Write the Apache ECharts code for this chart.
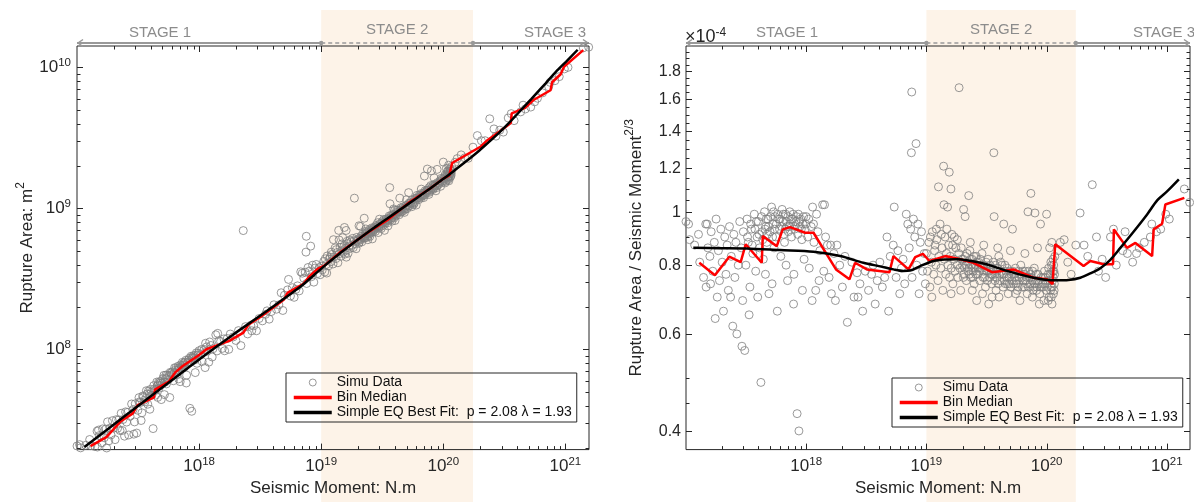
<!DOCTYPE html>
<html>
<head>
<meta charset="utf-8">
<script src="https://cdn.jsdelivr.net/npm/echarts@6/dist/echarts.min.js"></script>
<style>
html,body{margin:0;padding:0;background:#fff}
#chart{width:1194px;height:502px}
</style>
</head>
<body>
<div id="chart"></div>
<script>
var AXIS = '#262626';
var FONT = '"Liberation Sans", Arial, Helvetica, sans-serif';
var FIT_NAME = 'Simple EQ Best Fit:  p = 2.08 \u03bb = 1.93';

// simulated events: [seismic moment N.m, rupture area / moment^(2/3) in units of 1e-4]
var simuData = [
  [1.0e17,0.96],[1.05e17,0.95],[1.07e17,0.89],[1.18e17,0.87],[1.27e17,0.91],[1.3e17,0.81],[1.4e17,0.76],[1.46e17,0.95],
  [1.47e17,0.73],[1.5e17,0.95],[1.52e17,0.86],[1.58e17,0.83],[1.6e17,0.74],[1.62e17,0.92],[1.67e17,0.78],[1.72e17,0.88],
  [1.75e17,0.64],[1.78e17,0.97],[1.82e17,0.7],[1.86e17,0.85],[1.9e17,0.75],[1.95e17,0.93],[2.0e17,0.81],[2.05e17,0.66],
  [2.1e17,0.9],[2.15e17,0.77],[2.2e17,0.87],[2.25e17,0.72],[2.3e17,0.94],[2.35e17,0.7],[2.38e17,0.83],[2.45e17,0.62],
  [2.5e17,0.91],[2.55e17,0.76],[2.6e17,0.88],[2.65e17,0.6],[2.72e17,0.8],[2.8e17,0.96],[2.88e17,0.86],[2.92e17,0.57],
  [2.96e17,0.69],[3.0e17,0.92],[3.08e17,0.56],[3.15e17,0.8],[3.22e17,0.97],[3.25e17,0.9],[3.3e17,0.88],[3.35e17,0.65],
  [3.4e17,0.73],[3.45e17,0.95],[3.5e17,0.93],[3.55e17,0.87],[3.6e17,0.84],[3.7e17,0.99],[3.75e17,0.93],[3.8e17,0.78],
  [3.85e17,0.96],[3.9e17,0.9],[3.95e17,0.7],[4.0e17,0.96],[4.05e17,0.91],[4.1e17,0.86],[4.2e17,0.49],[4.25e17,0.98],
  [4.3e17,0.92],[4.35e17,0.89],[4.4e17,0.82],[4.5e17,1.0],[4.55e17,0.93],[4.58e17,0.77],[4.6e17,0.94],[4.65e17,0.97],
  [4.7e17,0.88],[4.75e17,0.91],[4.8e17,0.97],[4.85e17,0.94],[4.9e17,0.71],[5.0e17,0.92],[5.05e17,0.98],[5.15e17,1.02],
  [5.2e17,0.74],[5.25e17,0.9],[5.3e17,0.95],[5.35e17,1.0],[5.4e17,0.86],[5.45e17,0.93],[5.5e17,0.98],[5.6e17,0.9],
  [5.65e17,0.95],[5.75e17,0.66],[5.8e17,0.99],[5.9e17,0.97],[6.0e17,0.93],[6.05e17,0.97],[6.15e17,0.83],[6.25e17,0.94],
  [6.3e17,1.01],[6.4e17,0.96],[6.45e17,0.99],[6.5e17,0.91],[6.6e17,0.88],[6.7e17,0.93],[6.75e17,0.99],[6.8e17,0.8],
  [6.85e17,0.96],[6.9e17,0.94],[7.0e17,0.75],[7.05e17,0.98],[7.1e17,0.92],[7.2e17,0.94],[7.3e17,1.0],[7.4e17,0.95],
  [7.5e17,0.97],[7.55e17,0.9],[7.7e17,0.97],[7.8e17,0.99],[7.85e17,0.68],[7.9e17,0.77],[8.0e17,0.93],[8.1e17,0.94],
  [8.2e17,0.96],[8.3e17,0.98],[8.4e17,0.43],[8.5e17,0.91],[8.6e17,0.99],[8.7e17,0.4],[8.8e17,0.96],[8.85e17,0.94],
  [9.0e17,0.97],[9.1e17,0.93],[9.2e17,0.89],[9.3e17,0.72],[9.4e17,0.95],[9.5e17,0.98],[9.6e17,0.82],[9.8e17,0.93],
  [9.9e17,0.95],[1.0e18,0.98],[1.03e18,0.9],[1.05e18,0.97],[1.06e18,0.79],[1.1e18,0.94],[1.12e18,0.69],[1.13e18,1.02],
  [1.15e18,0.95],[1.16e18,0.88],[1.2e18,0.72],[1.22e18,0.99],[1.25e18,0.92],[1.28e18,0.75],[1.3e18,0.85],[1.37e18,1.03],
  [1.4e18,0.78],[1.45e18,0.9],
  [1.42e18,1.03],[1.5e18,0.87],[1.55e18,0.76],[1.6e18,0.87],[1.62e18,0.71],[1.7e18,0.84],[1.75e18,0.69],[1.8e18,0.87],
  [1.9e18,0.8],[2.0e18,0.73],[2.1e18,0.83],[2.2e18,0.63],[2.3e18,4.0],[2.4e18,0.81],[2.5e18,0.7],[2.65e18,0.775],
  [2.7e18,0.7],[2.8e18,0.74],[2.95e18,0.66],[3.1e18,0.78],[3.3e18,0.72],[3.5e18,0.77],[3.6e18,0.8],[3.75e18,0.68],
  [3.9e18,0.75],[4.1e18,0.81],[4.3e18,0.73],[4.5e18,0.76],[4.7e18,0.9],[4.85e18,0.66],[5.0e18,0.83],[5.3e18,0.87],
  [5.4e18,1.02],[5.6e18,0.76],[5.8e18,0.85],[6.0e18,0.71],[6.2e18,0.79],[6.4e18,0.82],[6.6e18,0.74],[6.8e18,0.99],
  [7.0e18,0.95],[7.2e18,0.86],[7.4e18,0.93],[7.5e18,1.28],[7.55e18,1.65],[7.6e18,0.76],[7.8e18,0.97],[8.0e18,0.9],
  [8.2e18,1.33],[8.3e18,0.8],[8.5e18,0.95],[8.7e18,0.71],[8.9e18,0.88],[9.1e18,0.92],[9.3e18,0.78],[9.6e18,0.84],
  [9.8e18,0.74],
  [1.0e19,0.84],[1.02e19,0.78],[1.05e19,0.88],[1.07e19,0.73],[1.08e19,0.9],[1.1e19,0.81],[1.11e19,0.7],[1.12e19,0.92],
  [1.15e19,0.77],[1.17e19,0.85],[1.18e19,0.87],[1.2e19,0.8],[1.21e19,0.93],[1.22e19,0.89],[1.25e19,0.75],[1.26e19,1.11],
  [1.27e19,0.83],[1.3e19,0.95],[1.32e19,0.79],[1.33e19,0.91],[1.35e19,0.86],[1.37e19,0.72],[1.39e19,1.21],[1.4e19,1.03],
  [1.41e19,0.82],[1.43e19,0.9],[1.45e19,0.77],[1.47e19,0.84],[1.48e19,0.93],[1.5e19,1.02],[1.51e19,0.8],[1.53e19,0.87],
  [1.55e19,1.18],[1.56e19,0.76],[1.58e19,0.83],[1.6e19,1.1],[1.605e19,0.71],[1.61e19,0.79],[1.63e19,0.91],[1.65e19,0.87],
  [1.66e19,0.74],[1.7e19,0.82],[1.71e19,0.9],[1.73e19,0.78],[1.76e19,0.86],[1.8e19,0.8],[1.81e19,0.89],[1.83e19,0.76],
  [1.86e19,0.84],[1.87e19,1.68],[1.9e19,0.79],[1.93e19,0.72],[1.95e19,0.86],[1.96e19,0.82],
  [2.0e19,0.8],[2.02e19,0.82],[2.03e19,0.76],[2.04e19,1.01],[2.05e19,0.77],[2.08e19,0.79],[2.1e19,0.98],[2.11e19,0.83],
  [2.13e19,0.8],[2.15e19,0.75],[2.18e19,0.84],[2.2e19,0.81],[2.23e19,0.78],[2.25e19,1.07],[2.26e19,0.79],[2.28e19,0.77],
  [2.3e19,0.85],[2.32e19,0.88],[2.33e19,0.82],[2.35e19,0.76],[2.38e19,0.8],[2.4e19,0.82],[2.41e19,0.72],[2.43e19,0.76],
  [2.45e19,0.78],[2.48e19,0.83],[2.5e19,0.74],[2.53e19,0.79],[2.55e19,0.8],[2.58e19,0.77],[2.6e19,0.83],[2.62e19,0.69],
  [2.63e19,0.81],[2.66e19,0.77],[2.69e19,0.79],[2.72e19,0.81],[2.75e19,0.78],[2.78e19,0.75],[2.81e19,0.82],[2.84e19,0.79],
  [2.87e19,0.8],[2.9e19,0.84],[2.93e19,0.71],[2.96e19,0.76],[2.99e19,0.78],[3.0e19,0.87],[3.02e19,0.8],[3.05e19,0.76],
  [3.1e19,0.73],[3.14e19,0.81],[3.16e19,0.79],[3.18e19,0.78],[3.22e19,0.75],[3.26e19,0.82],[3.3e19,0.68],[3.31e19,0.78],
  [3.34e19,0.76],[3.38e19,0.8],[3.42e19,0.79],[3.46e19,0.77],[3.5e19,0.74],[3.52e19,0.7],[3.55e19,0.77],[3.58e19,0.79],
  [3.6e19,0.81],[3.64e19,1.28],[3.66e19,0.98],[3.7e19,0.77],[3.72e19,0.75],[3.75e19,0.8],[3.8e19,0.72],[3.82e19,0.78],
  [3.85e19,0.76],[3.9e19,0.79],[3.92e19,0.86],[3.95e19,0.74],[4.0e19,0.83],[4.02e19,0.7],[4.05e19,0.77],[4.1e19,0.75],
  [4.15e19,0.81],[4.2e19,0.78],[4.25e19,0.8],[4.28e19,0.77],[4.35e19,0.73],[4.4e19,0.95],[4.42e19,0.77],[4.45e19,0.75],
  [4.5e19,0.8],[4.55e19,0.74],[4.58e19,0.78],[4.65e19,0.76],[4.7e19,0.79],[4.72e19,0.74],[4.8e19,0.71],[4.88e19,0.76],
  [4.9e19,0.74],[4.95e19,0.78],[5.0e19,0.85],[5.05e19,0.73],[5.1e19,0.77],[5.15e19,0.75],[5.2e19,0.93],[5.25e19,0.78],
  [5.3e19,0.74],[5.35e19,0.77],[5.45e19,0.76],[5.5e19,0.79],[5.52e19,0.71],[5.6e19,0.74],[5.65e19,0.75],[5.7e19,0.72],
  [5.8e19,0.73],[5.85e19,0.78],[5.9e19,0.76],[6.0e19,0.69],[6.05e19,0.77],[6.1e19,0.8],[6.2e19,0.76],[6.3e19,0.73],
  [6.35e19,0.78],[6.4e19,0.75],[6.5e19,0.77],[6.55e19,0.73],[6.6e19,0.84],[6.65e19,0.78],[6.7e19,0.75],[6.8e19,0.74],
  [6.85e19,0.76],[6.9e19,0.71],[7.0e19,1.0],[7.05e19,0.73],[7.1e19,0.78],[7.2e19,0.76],[7.3e19,0.74],[7.35e19,0.77],
  [7.4e19,1.08],[7.5e19,0.76],[7.6e19,0.75],[7.62e19,0.7],[7.65e19,0.78],[7.7e19,0.72],[7.8e19,0.73],[7.9e19,0.79],
  [7.95e19,0.74],[8.0e19,0.995],[8.1e19,0.75],[8.2e19,0.77],[8.25e19,0.72],[8.3e19,0.73],[8.4e19,0.86],[8.5e19,0.77],
  [8.55e19,0.75],[8.6e19,0.74],[8.7e19,0.68],[8.8e19,0.71],[8.9e19,0.95],[8.95e19,0.73],[9.0e19,0.76],[9.2e19,0.73],
  [9.3e19,0.74],[9.4e19,0.76],[9.5e19,0.69],[9.6e19,0.78],[9.7e19,0.74],[9.8e19,0.76],[9.9e19,0.72],[1.0e20,0.99],
  [1.01e20,0.73],[1.02e20,0.75],[1.03e20,0.77],[1.032e20,0.69],[1.04e20,0.79],[1.05e20,0.7],[1.06e20,0.86],[1.065e20,0.75],
  [1.07e20,0.77],[1.08e20,0.72],[1.085e20,0.81],[1.09e20,0.73],[1.095e20,0.7],[1.1e20,0.8],[1.105e20,0.88],[1.11e20,0.68],
  [1.115e20,0.73],[1.12e20,0.75],[1.125e20,0.78],[1.13e20,0.82],[1.135e20,0.76],[1.14e20,0.71],[1.145e20,0.8],[1.15e20,0.78],
  [1.155e20,0.72],[1.16e20,0.74],[1.165e20,0.77],[1.17e20,0.83],[1.25e20,0.85],[1.3e20,0.88],[1.4e20,0.89],[1.5e20,0.81],
  [1.6e20,0.77],[1.75e20,0.87],
  [1.9e20,0.995],[2.05e20,0.87],[2.2e20,0.83],[2.4e20,1.12],[2.6e20,0.9],[2.7e20,0.78],[2.9e20,0.82],[3.1e20,0.76],
  [3.4e20,0.9],[3.6e20,0.93],[3.8e20,0.8],[4.3e20,0.85],[4.5e20,0.92],[4.7e20,0.84],[5.2e20,0.81],[5.6e20,0.84],
  [5.9e20,0.86],[6.5e20,0.88],[7.3e20,0.9],[7.5e20,0.95],[8.2e20,0.92],[8.9e20,0.93],[9.8e20,0.99],[1.05e21,0.97],
  [1.4e21,1.1],[1.55e21,1.04]
];

// bin median of the ratio: [moment, ratio x1e-4]
var binMedian = [
  [1.29e17,0.808],[1.74e17,0.767],[2.29e17,0.829],[2.85e17,0.81],[3.14e17,0.873],[4.27e17,0.808],[4.35e17,0.904],
  [5.69e17,0.866],[6.38e17,0.929],[7.35e17,0.938],[9.8e17,0.916],[1.15e18,0.916],[1.77e18,0.786],[2.29e18,0.754],
  [2.55e18,0.808],[3.2e18,0.786],[4.93e18,0.777],[5.32e18,0.831],[7.1e18,0.786],[8.07e18,0.827],[9.35e18,0.839],
  [1.06e19,0.814],[1.44e19,0.831],[1.91e19,0.82],[2.47e19,0.808],[3.51e19,0.777],[5.31e19,0.786],[7.8e19,0.759],
  [1.01e20,0.754],[1.12e20,0.739],[1.18e20,0.873],[2.03e20,0.797],[2.31e20,0.814],[2.98e20,0.803],[3.57e20,0.803],
  [3.63e20,0.929],[4.67e20,0.86],[5.48e20,0.878],[7.55e20,0.831],[7.78e20,0.929],[9.14e20,0.951],[9.73e20,1.031],
  [1.4e21,1.06]
];

// best fit curve: [moment, ratio x1e-4]
var bestFit = [
  [1.15e17,0.86],[1.92e17,0.859],[3.2e17,0.858],[6.06e17,0.852],[1.15e18,0.846],[1.92e18,0.831],[2.99e18,0.808],
  [4.12e18,0.796],[5.32e18,0.786],[6.41e18,0.781],[7.33e18,0.782],[8.88e18,0.797],[1.15e19,0.814],[1.44e19,0.819],
  [1.8e19,0.82],[2.23e19,0.816],[2.81e19,0.808],[3.6e19,0.796],[4.68e19,0.781],[6.04e19,0.769],[7.8e19,0.759],
  [9.76e19,0.753],[1.22e20,0.751],[1.52e20,0.752],[1.91e20,0.759],[2.31e20,0.773],[2.8e20,0.79],[3.39e20,0.818],
  [4.11e20,0.86],[5.27e20,0.919],[6.86e20,0.989],[8.35e20,1.05],[1.01e21,1.09],[1.26e21,1.145]
];

var momentRange = [1e17, 1.56e21];
var areaRange = [1.95e7, 1.42e10];
var ratioRange = [0.37, 2.0];
var stageEdges = [1e19, 1.75e20];
var momentTicks = [1e18, 1e19, 1e20, 1e21];
var areaTicks = [1e8, 1e9, 1e10];
var ratioTicks = [0.4, 0.6, 0.8, 1, 1.2, 1.4, 1.6, 1.8];
var ratioMinorTicks = [0.45, 0.5, 0.7, 0.9, 1.05, 1.1, 1.15, 1.25, 1.3, 1.35, 1.45, 1.5, 1.55, 1.65, 1.7, 1.75, 1.85, 1.9, 1.95];
var mantissas = [2, 3, 4, 5, 6, 7, 8, 9];

// rupture area = ratio * 1e-4 * M^(2/3)
function toArea(p) { return [p[0], p[1] * 1e-4 * Math.pow(p[0], 2 / 3)]; }

function minorDecades(lo, hi) {
  var out = [];
  for (var k = Math.floor(Math.log10(lo)); k <= Math.ceil(Math.log10(hi)); k++) {
    mantissas.forEach(function (m) {
      var v = m * Math.pow(10, k);
      if (v > lo * 1.02 && v < hi * 0.98) out.push(v);
    });
  }
  return out;
}

// tick kinds: 0 x major, 1 x minor, 2 y major, 3 y minor, 4 y major with label
function tickData(yLo, yMajor, yMinor, labelY) {
  var d = [];
  momentTicks.forEach(function (v) { d.push([v, yLo, 0]); });
  minorDecades(momentRange[0], momentRange[1]).forEach(function (v) { d.push([v, yLo, 1]); });
  yMajor.forEach(function (v) { d.push([momentRange[0], v, labelY ? 4 : 2]); });
  yMinor.forEach(function (v) { d.push([momentRange[0], v, 3]); });
  return d;
}

function renderTicks(params, api) {
  var cs = params.coordSys;
  var kind = api.value(2);
  var len = (kind === 0 || kind === 2 || kind === 4) ? 6 : 3.5;
  var st = {stroke: AXIS, lineWidth: 1};
  var pt = api.coord([api.value(0), api.value(1)]);
  var kids = [];
  if (kind < 2) {
    var x = Math.round(pt[0]) + 0.5;
    kids.push({type: 'line', shape: {x1: x, y1: cs.y + cs.height, x2: x, y2: cs.y + cs.height - len}, style: st});
    kids.push({type: 'line', shape: {x1: x, y1: cs.y, x2: x, y2: cs.y + len}, style: st});
  } else {
    var y = Math.round(pt[1]) + 0.5;
    kids.push({type: 'line', shape: {x1: cs.x, y1: y, x2: cs.x + len, y2: y}, style: st});
    kids.push({type: 'line', shape: {x1: cs.x + cs.width, y1: y, x2: cs.x + cs.width - len, y2: y}, style: st});
    if (kind === 4) {
      kids.push({type: 'text', style: {text: String(api.value(1)), x: cs.x - 5, y: y,
        align: 'right', verticalAlign: 'middle', font: '16px ' + FONT, fill: AXIS}});
    }
  }
  return {type: 'group', children: kids};
}

var richPow = {
  b: {fontSize: 17, lineHeight: 22, fontFamily: FONT, color: AXIS},
  sup: {fontSize: 11.5, lineHeight: 12, verticalAlign: 'top', fontFamily: FONT, color: AXIS}
};
function powLabel(v) { return '{b|10}{sup|' + Math.round(Math.log10(v)) + '}'; }

function xAxisFor(i) {
  return {
    type: 'log', gridIndex: i, min: momentRange[0], max: momentRange[1],
    name: 'Seismic Moment: N.m', nameLocation: 'middle', nameGap: 30,
    nameTextStyle: {fontSize: 17, fontFamily: FONT, color: AXIS},
    axisLine: {show: false}, axisTick: {show: false}, splitLine: {show: false},
    axisLabel: {formatter: powLabel, rich: richPow, margin: 6, interval: 0, showMinLabel: false, showMaxLabel: false}
  };
}

var nameRich = {
  n: {fontSize: 17, lineHeight: 24, fontFamily: FONT, color: AXIS},
  sup: {fontSize: 12, lineHeight: 13, verticalAlign: 'top', fontFamily: FONT, color: AXIS}
};

function seriesFor(i, conv) {
  return [
    {name: 'Simu Data', type: 'scatter', xAxisIndex: i, yAxisIndex: i, data: simuData.map(conv),
      symbol: 'circle', symbolSize: 8, clip: i === 1, z: 2,
      itemStyle: {color: 'rgba(0,0,0,0)', borderColor: '#808080', borderWidth: 1}},
    {name: 'Bin Median', type: 'line', xAxisIndex: i, yAxisIndex: i, data: binMedian.map(conv),
      symbol: 'none', showSymbol: false, z: 3, lineStyle: {color: '#ff0000', width: 2.5}},
    {name: FIT_NAME, type: 'line', xAxisIndex: i, yAxisIndex: i, data: bestFit.map(conv),
      symbol: 'none', showSymbol: false, smooth: 0.3, z: 4, lineStyle: {color: '#000000', width: 2.5}}
  ];
}

function legendAt(left, top) {
  return {
    left: left, top: top, orient: 'vertical', itemGap: 0, itemWidth: 38, itemHeight: 7,
    padding: [2, 5, 2, 6], borderColor: AXIS, borderWidth: 1, selectedMode: false,
    textStyle: {fontSize: 14, lineHeight: 15, fontFamily: FONT, color: '#111'},
    data: [
      {name: 'Simu Data', itemStyle: {color: 'rgba(0,0,0,0)', borderColor: '#808080', borderWidth: 1}},
      {name: 'Bin Median', itemStyle: {opacity: 0}, lineStyle: {width: 3.5}},
      {name: FIT_NAME, itemStyle: {opacity: 0}, lineStyle: {width: 3.5}}
    ]
  };
}

var chart = echarts.init(document.getElementById('chart'));
var option = {
  animation: false,
  backgroundColor: '#fff',
  legend: [legendAt(286, 373), legendAt(892, 378)],
  grid: [
    {left: 77, top: 46, width: 512, height: 406, show: true, borderColor: AXIS, borderWidth: 1, backgroundColor: 'transparent'},
    {left: 686, top: 46, width: 504, height: 406, show: true, borderColor: AXIS, borderWidth: 1, backgroundColor: 'transparent'}
  ],
  xAxis: [xAxisFor(0), xAxisFor(1)],
  yAxis: [
    {type: 'log', gridIndex: 0, min: areaRange[0], max: areaRange[1],
      name: '{n|Rupture Area: m}{sup|2}', nameLocation: 'middle', nameGap: 31,
      nameTextStyle: {rich: nameRich},
      axisLine: {show: false}, axisTick: {show: false}, splitLine: {show: false},
      axisLabel: {formatter: powLabel, rich: richPow, margin: 6, interval: 0, showMinLabel: false, showMaxLabel: false}},
    {type: 'log', gridIndex: 1, min: ratioRange[0], max: ratioRange[1],
      name: '{n|Rupture Area / Seismic Moment}{sup|2/3}', nameLocation: 'middle', nameGap: 38,
      nameTextStyle: {rich: nameRich},
      axisLine: {show: false}, axisTick: {show: false}, splitLine: {show: false}, axisLabel: {show: false}}
  ],
  series: seriesFor(0, toArea).concat(seriesFor(1, function (p) { return p; })).concat([
    {type: 'custom', xAxisIndex: 0, yAxisIndex: 0, silent: true, clip: false, z: 6, renderItem: renderTicks,
      data: tickData(areaRange[0], areaTicks, minorDecades(areaRange[0], areaRange[1]), false)},
    {type: 'custom', xAxisIndex: 1, yAxisIndex: 1, silent: true, clip: false, z: 6, renderItem: renderTicks,
      data: tickData(ratioRange[0], ratioTicks, ratioMinorTicks, true)}
  ])
};
chart.setOption(option);

// stage shading and stage arrows, placed with the x scales
var GRAY = '#999999';
var arrowY = 43;
var stageText = [[160, 555], [787, 1164]];
var graphics = [];
[0, 1].forEach(function (i) {
  var px = function (v) { return chart.convertToPixel({xAxisIndex: i}, v); };
  var l = px(momentRange[0]), a = px(stageEdges[0]), b = px(stageEdges[1]), r = px(momentRange[1]);
  graphics.push({type: 'rect', z: -10, silent: true, shape: {x: a, y: 10, width: b - a, height: 492}, style: {fill: '#fdf3e8'}});
  var ln = {stroke: GRAY, lineWidth: 2};
  graphics.push({type: 'line', shape: {x1: l, y1: arrowY, x2: a, y2: arrowY}, style: ln});
  graphics.push({type: 'line', shape: {x1: a, y1: arrowY, x2: b, y2: arrowY}, style: {stroke: GRAY, lineWidth: 1.6, lineDash: [4, 3]}});
  graphics.push({type: 'line', shape: {x1: b, y1: arrowY, x2: r, y2: arrowY}, style: ln});
  graphics.push({type: 'polyline', shape: {points: [[l + 6, arrowY - 3.5], [l + 1, arrowY], [l + 6, arrowY + 3.5]]}, style: {stroke: GRAY, lineWidth: 1.5, fill: null}});
  graphics.push({type: 'polyline', shape: {points: [[r - 6, arrowY - 3.5], [r - 1, arrowY], [r - 6, arrowY + 3.5]]}, style: {stroke: GRAY, lineWidth: 1.5, fill: null}});
  graphics.push({type: 'circle', shape: {cx: a, cy: arrowY, r: 2.2}, style: {fill: GRAY}});
  graphics.push({type: 'circle', shape: {cx: b, cy: arrowY, r: 2.2}, style: {fill: GRAY}});
  var ts = {font: '15px ' + FONT, fill: '#8c8c8c', align: 'center', verticalAlign: 'middle'};
  graphics.push({type: 'text', style: Object.assign({text: 'STAGE 1', x: stageText[i][0], y: 33}, ts)});
  graphics.push({type: 'text', style: Object.assign({text: 'STAGE 2', x: (a + b) / 2, y: 30}, ts)});
  graphics.push({type: 'text', style: Object.assign({text: 'STAGE 3', x: stageText[i][1], y: 33}, ts)});
});
graphics.push({type: 'text', style: {text: '{b|\u00d710}{sup|-4}', x: 685, y: 27,
  rich: {b: {font: '18px ' + FONT, fill: AXIS, lineHeight: 20}, sup: {font: '12px ' + FONT, fill: AXIS, lineHeight: 11, verticalAlign: 'top'}}}});
chart.setOption({graphic: graphics});
</script>
</body>
</html>
